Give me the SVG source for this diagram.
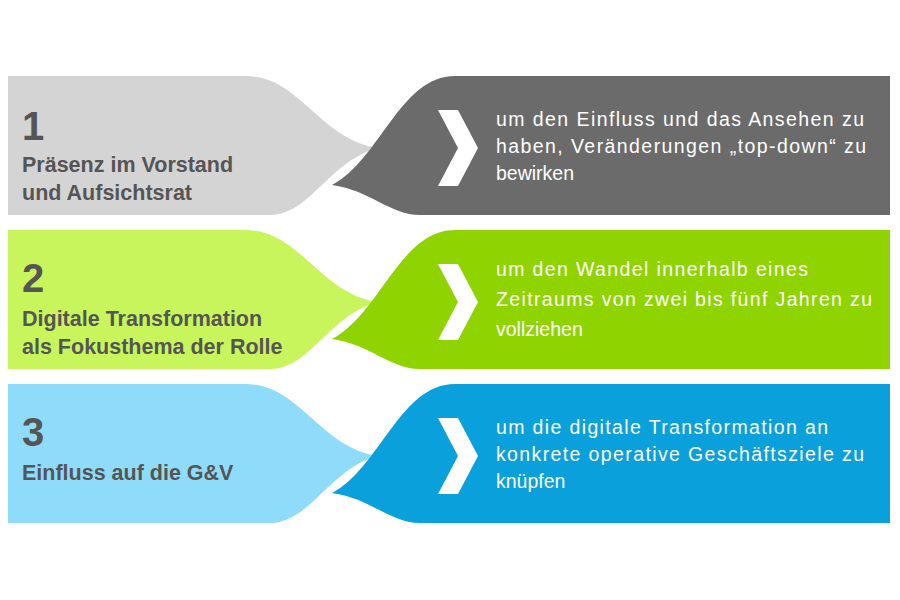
<svg xmlns="http://www.w3.org/2000/svg" width="900" height="600" viewBox="0 0 900 600">
<style>
.n{font:bold 40px "Liberation Sans",Arial,sans-serif;fill:#555}
.l{font:bold 21.5px "Liberation Sans",Arial,sans-serif;fill:#555}
.r{font:19.5px "Liberation Sans",Arial,sans-serif;fill:#fff}
.c{fill:#fff}
</style>
<defs>
<path id="lf" d="M8,0 H245 C300,0 320,64 378,72 C330,84 310,139 270,139 H8 Z"/>
<path id="dk" d="M890,0 H455 C400,0 380,84 332,109 C370,114 390,139 420,139 H890 Z"/>
<path id="ch" d="M438,34 L458,34 L478,72 L458,110 L438,110 L458,72 Z"/>
</defs>
<rect width="900" height="600" fill="#fff"/>
<g id="row1" transform="translate(0,76)">
<use href="#lf" fill="#d4d4d4"/><use href="#dk" fill="#6b6b6b"/><use href="#ch" class="c"/>
<text class="n" x="22" y="64">1</text>
<text class="l" x="22" y="96">Präsenz im Vorstand</text>
<text class="l" x="22" y="124">und Aufsichtsrat</text>
<text class="r" x="496" y="50" textLength="368">um den Einfluss und das Ansehen zu</text>
<text class="r" x="496" y="77" textLength="370">haben, Veränderungen „top-down“ zu</text>
<text class="r" x="496" y="104">bewirken</text>
</g>
<g id="row2" transform="translate(0,230)">
<use href="#lf" fill="#c8f55c"/><use href="#dk" fill="#8fd400"/><use href="#ch" class="c"/>
<text class="n" x="22" y="62">2</text>
<text class="l" x="22" y="96">Digitale Transformation</text>
<text class="l" x="22" y="124">als Fokusthema der Rolle</text>
<text class="r" x="496" y="46" textLength="312">um den Wandel innerhalb eines</text>
<text class="r" x="496" y="76" textLength="376">Zeitraums von zwei bis fünf Jahren zu</text>
<text class="r" x="496" y="106">vollziehen</text>
</g>
<g id="row3" transform="translate(0,384)">
<use href="#lf" fill="#8fdcfa"/><use href="#dk" fill="#0aa0dc"/><use href="#ch" class="c"/>
<text class="n" x="22" y="62">3</text>
<text class="l" x="22" y="96">Einfluss auf die G&amp;V</text>
<text class="r" x="496" y="50" textLength="332">um die digitale Transformation an</text>
<text class="r" x="496" y="77" textLength="368">konkrete operative Geschäftsziele zu</text>
<text class="r" x="496" y="104">knüpfen</text>
</g>
</svg>
